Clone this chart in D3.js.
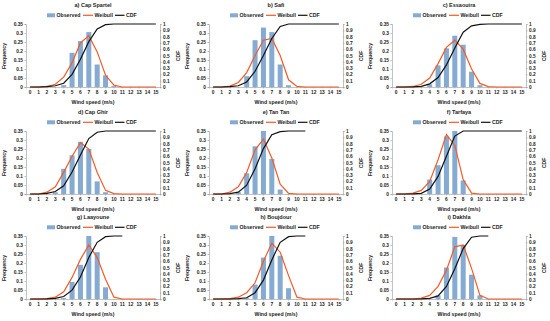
<!DOCTYPE html>
<html>
<head>
<meta charset="utf-8">
<script src="https://cdn.jsdelivr.net/npm/d3@7"></script>
<style>
  body { margin: 0; background: #fff; }
  svg text { font-family: "Liberation Sans", Arial, sans-serif; font-weight: bold; fill: #222; }
</style>
</head>
<body>
<div id="chart"></div>
<script>
// wind speed classes (m/s)
var speeds = d3.range(0, 16);

var titles = ['a) Cap Spartel', 'b) Safi', 'c) Essaouira',
              'd) Cap Ghir', 'e) Tan Tan', 'f) Tarfaya',
              'g) Laayoune', 'h) Boujdour', 'i) Dakhla'];

// observed frequency per class, one list per station
var observed = [
    [0, 0, 0, 0, 0.01, 0.19, 0.255, 0.305, 0.125, 0.065, 0.005, 0, 0, 0, 0, 0],
    [0, 0, 0, 0, 0.06, 0.26, 0.33, 0.305, 0.125, 0.01, 0, 0, 0, 0, 0, 0],
    [0, 0, 0, 0, 0.015, 0.12, 0.215, 0.285, 0.235, 0.085, 0.01, 0, 0, 0, 0, 0],
    [0, 0, 0, 0.01, 0.14, 0.215, 0.29, 0.25, 0.07, 0.01, 0, 0, 0, 0, 0, 0],
    [0, 0, 0, 0.01, 0.115, 0.265, 0.35, 0.195, 0.025, 0, 0, 0, 0, 0, 0, 0],
    [0, 0, 0, 0, 0.08, 0.16, 0.32, 0.35, 0.075, 0, 0, 0, 0, 0, 0, 0],
    [0, 0, 0, 0, 0.005, 0.095, 0.19, 0.35, 0.26, 0.065, 0, 0, 0, 0, 0, 0],
    [0, 0, 0, 0, 0.005, 0.08, 0.23, 0.35, 0.24, 0.06, 0, 0, 0, 0, 0, 0],
    [0, 0, 0, 0, 0, 0.02, 0.175, 0.345, 0.3, 0.135, 0.02, 0, 0, 0, 0, 0]
];

// fitted weibull pdf
var weibull = [
    [0, 0, 0.003, 0.015, 0.055, 0.135, 0.245, 0.285, 0.195, 0.065, 0.01, 0, 0, 0, 0, 0],
    [0, 0, 0.005, 0.025, 0.08, 0.175, 0.26, 0.27, 0.175, 0.04, 0.003, 0, 0, 0, 0, 0],
    [0, 0, 0.003, 0.015, 0.05, 0.13, 0.22, 0.26, 0.21, 0.1, 0.02, 0.002, 0, 0, 0, 0],
    [0, 0, 0.01, 0.04, 0.12, 0.21, 0.285, 0.25, 0.12, 0.02, 0.002, 0, 0, 0, 0, 0],
    [0, 0, 0.01, 0.04, 0.12, 0.245, 0.305, 0.2, 0.055, 0.003, 0, 0, 0, 0, 0, 0],
    [0, 0, 0.005, 0.02, 0.07, 0.19, 0.33, 0.27, 0.08, 0.005, 0, 0, 0, 0, 0, 0],
    [0, 0, 0.002, 0.01, 0.04, 0.12, 0.22, 0.3, 0.23, 0.11, 0.01, 0, 0, 0, 0, 0],
    [0, 0, 0.002, 0.01, 0.035, 0.09, 0.21, 0.31, 0.26, 0.13, 0.01, 0, 0, 0, 0, 0],
    [0, 0, 0, 0.005, 0.02, 0.07, 0.16, 0.29, 0.3, 0.17, 0.02, 0, 0, 0, 0, 0]
];

// cumulative distribution (some stations stop at 11 m/s)
var cdf = [
    [0, 0, 0.005, 0.02, 0.06, 0.2, 0.44, 0.72, 0.92, 0.99, 1, 1, 1, 1, 1, 1],
    [0, 0, 0.005, 0.02, 0.08, 0.25, 0.5, 0.77, 0.96, 1, 1, 1, 1, 1, 1, 1],
    [0, 0, 0.003, 0.01, 0.05, 0.15, 0.35, 0.62, 0.87, 0.97, 0.995, 1, 1, 1, 1, 1],
    [0, 0, 0.01, 0.04, 0.13, 0.35, 0.62, 0.88, 0.98, 1, 1, 1, 1, 1, 1, 1],
    [0, 0, 0.005, 0.03, 0.14, 0.4, 0.72, 0.94, 0.99, 1, 1, 1],
    [0, 0, 0.002, 0.01, 0.08, 0.28, 0.6, 0.92, 1, 1, 1, 1, 1, 1, 1, 1],
    [0, 0, 0.002, 0.01, 0.04, 0.14, 0.35, 0.66, 0.9, 0.99, 1, 1],
    [0, 0, 0, 0.005, 0.02, 0.1, 0.3, 0.62, 0.9, 0.99, 1, 1],
    [0, 0, 0, 0.002, 0.01, 0.05, 0.2, 0.48, 0.8, 0.98, 1, 1]
];

var freqTicks = [0, 0.05, 0.1, 0.15, 0.2, 0.25, 0.3, 0.35];
var cdfTicks = d3.range(0, 11).map(function (d) { return d / 10; });

var width = 550, height = 321;
var colX = [0, 183, 366],
    rowY = [0, 107, 212];

var svg = d3.select('#chart')
    .append('svg')
        .attr('width', width)
        .attr('height', height);

var fmt = function (d) { return String(+d.toFixed(2)); };

var x = d3.scaleBand()
    .domain(speeds)
    .range([26, 160])
    .paddingInner(0.4)
    .paddingOuter(0.2);
var yL = d3.scaleLinear().domain([0, 0.35]).range([87, 24]);
var yR = d3.scaleLinear().domain([0, 1]).range([87, 24]);
var cx = function (d, i) { return x(speeds[i]) + x.bandwidth() / 2; };

titles.forEach(function (title, k) {
    var g = svg.append('g')
        .attr('transform', 'translate(' + colX[k % 3] + ',' + rowY[Math.floor(k / 3)] + ')');

    g.append('text')
        .attr('x', 93).attr('y', 7)
        .attr('text-anchor', 'middle')
        .style('font-size', '5.5px')
        .text(title);

    // legend
    var lg = g.append('g').style('font-size', '5.2px');
    lg.append('rect').attr('x', 47).attr('y', 13.3).attr('width', 8).attr('height', 4).attr('fill', '#86abd3');
    lg.append('text').attr('x', 56.5).attr('y', 17.2).text('Observed');
    lg.append('line').attr('x1', 83).attr('x2', 93).attr('y1', 15.3).attr('y2', 15.3)
        .attr('stroke', '#f45b25').attr('stroke-width', 1.2);
    lg.append('text').attr('x', 94.5).attr('y', 17.2).text('Weibull');
    lg.append('line').attr('x1', 115).attr('x2', 124.5).attr('y1', 15.3).attr('y2', 15.3)
        .attr('stroke', '#111').attr('stroke-width', 1.2);
    lg.append('text').attr('x', 126).attr('y', 17.2).text('CDF');

    // axes
    var ax = g.append('g').style('font-size', '4.8px');
    var left = ax.append('g').attr('transform', 'translate(26,0)')
        .call(d3.axisLeft(yL).tickValues(freqTicks).tickFormat(fmt).tickSize(1.5).tickPadding(1.5));
    var right = ax.append('g').attr('transform', 'translate(160,0)')
        .call(d3.axisRight(yR).tickValues(cdfTicks).tickFormat(fmt).tickSize(1.5).tickPadding(1.5));
    var bottom = ax.append('g').attr('transform', 'translate(0,87)')
        .call(d3.axisBottom(x).tickSize(1.5).tickPadding(2.5));
    [left, right, bottom].forEach(function (a) {
        a.selectAll('path, line').attr('stroke', '#999').attr('stroke-width', 0.6);
        a.selectAll('text').style('font-family', null).style('font-size', null);
        a.attr('font-family', null).attr('font-size', null);
    });

    g.append('text')
        .attr('transform', 'translate(6,56) rotate(-90)')
        .attr('text-anchor', 'middle')
        .style('font-size', '5.2px')
        .text('Frequency');
    g.append('text')
        .attr('transform', 'translate(180,56) rotate(-90)')
        .attr('text-anchor', 'middle')
        .style('font-size', '5.2px')
        .text('CDF');
    g.append('text')
        .attr('x', 93).attr('y', 103.5)
        .attr('text-anchor', 'middle')
        .style('font-size', '5.2px')
        .text('Wind speed (m/s)');

    // observed bars
    g.append('g').selectAll('rect')
        .data(observed[k])
        .enter()
        .append('rect')
            .attr('x', function (d, i) { return x(speeds[i]); })
            .attr('y', function (d) { return yL(d); })
            .attr('width', x.bandwidth())
            .attr('height', function (d) { return yL(0) - yL(d); })
            .attr('fill', '#86abd3');

    var wLine = d3.line().x(cx).y(function (d) { return yL(d); });
    var cLine = d3.line().x(cx).y(function (d) { return yR(d); });

    g.append('path')
        .attr('d', wLine(weibull[k]))
        .attr('fill', 'none')
        .attr('stroke', '#f45b25')
        .attr('stroke-width', 1.2);
    g.append('path')
        .attr('d', cLine(cdf[k]))
        .attr('fill', 'none')
        .attr('stroke', '#111')
        .attr('stroke-width', 1.2);
});
</script>
</body>
</html>
